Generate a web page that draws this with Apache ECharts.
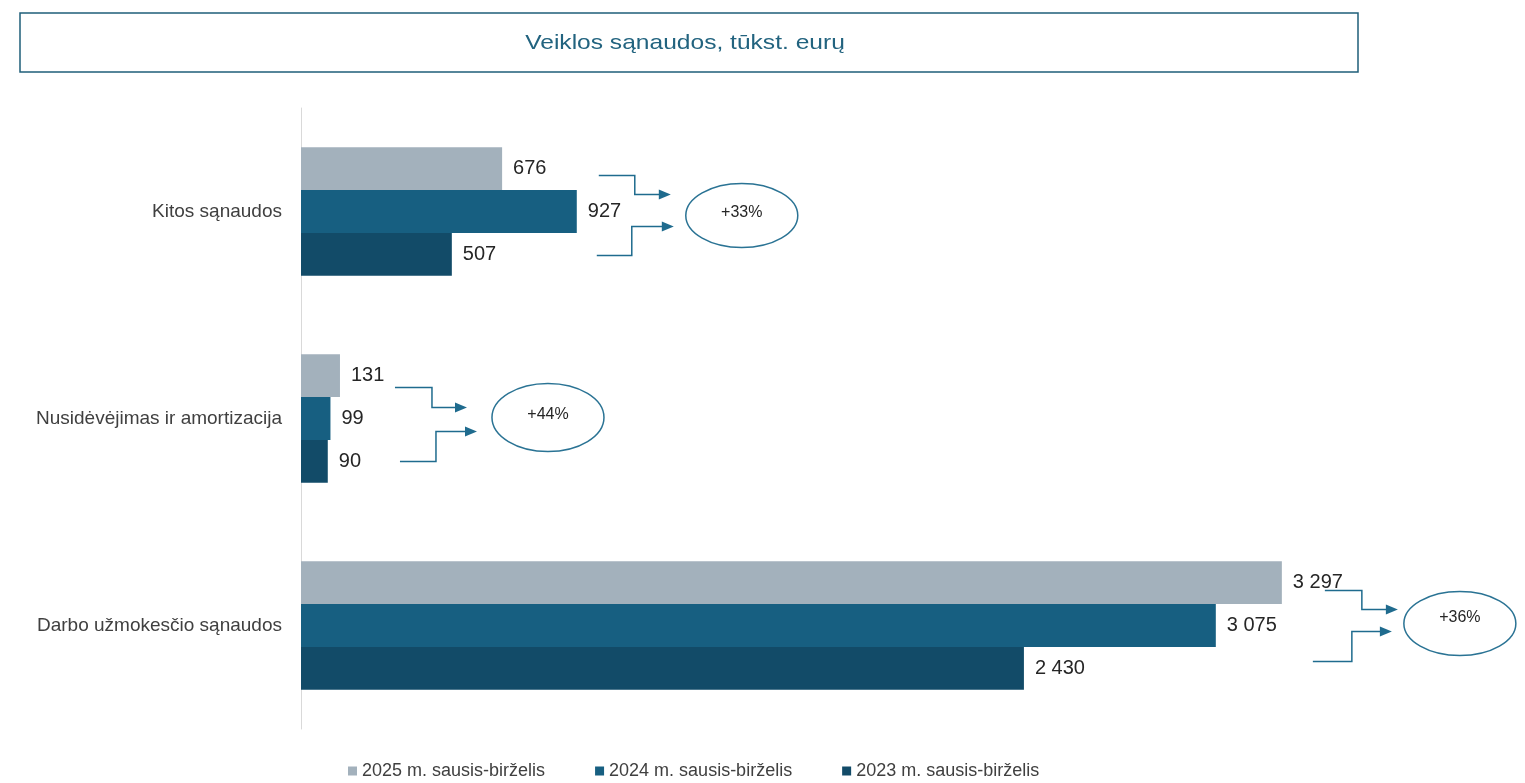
<!DOCTYPE html>
<html>
<head>
<meta charset="utf-8">
<script src="https://cdn.jsdelivr.net/npm/echarts@6/dist/echarts.min.js"></script>
<style>
  html, body { margin: 0; padding: 0; background: #fff; }
  #chart { width: 1525px; height: 783px; }
</style>
</head>
<body>
<div id="chart"></div>
<script>
// kategorijos (y ašis, iš apačios į viršų)
const categories = ['Darbo užmokesčio sąnaudos', 'Nusidėvėjimas ir amortizacija', 'Kitos sąnaudos']
const seriesNames = ['2025 m. sausis-birželis', '2024 m. sausis-birželis', '2023 m. sausis-birželis']
const values2025 = [3297, 131, 676]
const values2024 = [3075, 99, 927]
const values2023 = [2430, 90, 507]
const growthLabels = ['+36%', '+44%', '+33%']

const colors = ['#a3b1bc', '#175f81', '#124b68']
const lineColor = '#1f6b8e'
const fontFamily = '"Liberation Sans", Arial, sans-serif'

const chart = echarts.init(document.getElementById('chart'))

// tūkstančių skyriklis - tarpas
const fmt = v => String(v).replace(/\B(?=(\d{3})+(?!\d))/g, ' ')

const barSeries = (name, data, color) => ({
  name: name,
  type: 'bar',
  data: data,
  barGap: '0%',
  barCategoryGap: '38%',
  itemStyle: { color: color },
  label: {
    show: true,
    position: 'right',
    distance: 11,
    color: '#262626',
    fontSize: 20,
    fontFamily: fontFamily,
    formatter: p => fmt(p.value)
  }
})

const option = {
  animation: false,
  backgroundColor: '#fff',
  grid: { left: 301, right: 34, top: 108, bottom: 54 },
  legend: {
    data: seriesNames,
    left: 343,
    top: 757,
    icon: 'rect',
    itemWidth: 9,
    itemHeight: 9,
    itemGap: 50,
    textStyle: { color: '#404040', fontSize: 18, fontFamily: fontFamily }
  },
  xAxis: { type: 'value', min: 0, max: 4000, show: false },
  yAxis: {
    type: 'category',
    data: categories,
    axisLine: { show: true, lineStyle: { color: '#d9d9d9', width: 1 } },
    axisTick: { show: false },
    axisLabel: { color: '#404040', fontSize: 19, fontFamily: fontFamily, margin: 19 }
  },
  series: [
    barSeries(seriesNames[0], values2025, colors[0]),
    barSeries(seriesNames[1], values2024, colors[1]),
    barSeries(seriesNames[2], values2023, colors[2])
  ]
}

chart.setOption(option)

// anotacijų išdėstymas: poslinkiai nuo ilgiausio stulpelio galo ir kategorijos centro
const annotLayout = [
  { up: [43, 80, 116, -35, -16], low: [31, 70, 110, 36, 6], ell: [178, -2, 56, 32], txt: -8 },
  { up: [55, 92, 127, -31, -11], low: [60, 96, 137, 43, 13], ell: [208, -1, 56, 34], txt: -4 },
  { up: [22, 58, 94, -36, -17], low: [20, 55, 97, 44, 15], ell: [165, 4, 56, 32], txt: 1 }
]

const graphics = [
  {
    type: 'rect',
    shape: { x: 20, y: 13, width: 1338, height: 59 },
    style: { fill: 'none', stroke: '#1f5f7a', lineWidth: 1.5 }
  },
  {
    type: 'text',
    x: 685, y: 43,
    scaleX: 1.17,
    style: {
      text: 'Veiklos sąnaudos, tūkst. eurų',
      fill: '#22637f',
      font: '21px ' + fontFamily,
      align: 'center',
      verticalAlign: 'middle'
    }
  }
]

const arrowHead = (x, y) => ({
  type: 'polygon',
  shape: { points: [[x - 12, y - 5], [x, y], [x - 12, y + 5]] },
  style: { fill: lineColor }
})

const connector = (x0, cy, p) => {
  const [a, b, tip, y1, y2] = p
  return [
    {
      type: 'polyline',
      shape: { points: [[x0 + a, cy + y1], [x0 + b, cy + y1], [x0 + b, cy + y2], [x0 + tip - 8, cy + y2]] },
      style: { stroke: lineColor, lineWidth: 1.5, fill: null }
    },
    arrowHead(x0 + tip, cy + y2)
  ]
}

categories.forEach((c, i) => {
  const maxVal = Math.max(values2025[i], values2024[i], values2023[i])
  const end = chart.convertToPixel({ gridIndex: 0 }, [maxVal, i])
  const x0 = end[0]
  const cy = end[1]
  const L = annotLayout[i]
  graphics.push(...connector(x0, cy, L.up))
  graphics.push(...connector(x0, cy, L.low))
  graphics.push({
    type: 'ellipse',
    shape: { cx: x0 + L.ell[0], cy: cy + L.ell[1], rx: L.ell[2], ry: L.ell[3] },
    style: { fill: '#fff', stroke: '#2a7394', lineWidth: 1.5 }
  })
  graphics.push({
    type: 'text',
    x: x0 + L.ell[0], y: cy + L.txt,
    style: {
      text: growthLabels[i],
      fill: '#262626',
      font: '16px ' + fontFamily,
      align: 'center',
      verticalAlign: 'middle'
    }
  })
})

chart.setOption({ graphic: { elements: graphics } })

window.addEventListener('resize', () => chart.resize())
</script>
</body>
</html>
